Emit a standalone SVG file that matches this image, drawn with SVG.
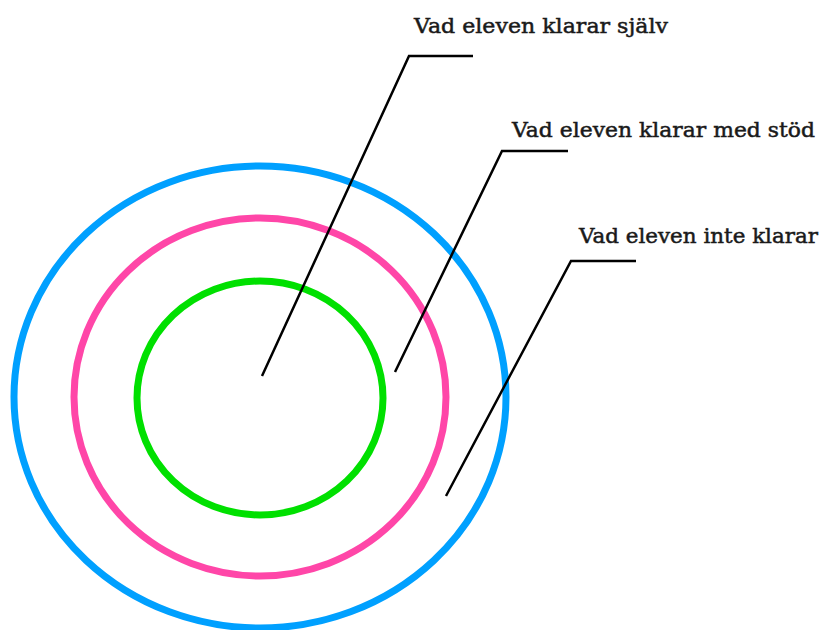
<svg xmlns="http://www.w3.org/2000/svg" width="823" height="630" viewBox="0 0 823 630">
<style>
.ring{fill:none;stroke-width:7}
.lead{fill:none;stroke:#000;stroke-width:2.5}
.lbl{font-family:"DejaVu Serif","Liberation Serif",serif;font-size:21px;fill:#1a1a1a;stroke:#1a1a1a;stroke-width:0.5}
</style>
<rect width="823" height="630" fill="#fff"/>
<g id="outer"><ellipse class="ring" cx="260" cy="397" rx="246" ry="231" stroke="#00a0ff"/></g>
<g id="middle"><ellipse class="ring" cx="260" cy="397" rx="186" ry="179" stroke="#ff46a8"/></g>
<g id="inner"><ellipse class="ring" cx="260" cy="398" rx="123" ry="117" stroke="#00e000"/></g>
<g id="connectors">
<polyline class="lead" points="262,376 409,56 473,56"/>
<polyline class="lead" points="395,372 502,151 568,151"/>
<polyline class="lead" points="446,496 571,261 636,261"/>
</g>
<g id="label-sjalv"><text class="lbl" x="414" y="33" textLength="254" lengthAdjust="spacingAndGlyphs">Vad eleven klarar själv</text></g>
<g id="label-stod"><text class="lbl" x="512" y="137" textLength="303" lengthAdjust="spacingAndGlyphs">Vad eleven klarar med stöd</text></g>
<g id="label-inte"><text class="lbl" x="579" y="243" textLength="239" lengthAdjust="spacingAndGlyphs">Vad eleven inte klarar</text></g>
</svg>
